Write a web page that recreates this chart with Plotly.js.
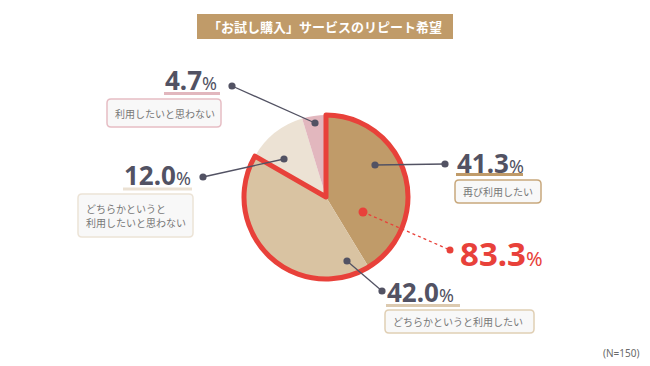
<!DOCTYPE html>
<html><head><meta charset="utf-8">
<script src="https://cdn.plot.ly/plotly-3.0.1.min.js"></script>
<style>html,body{margin:0;padding:0;background:#fff}#c{width:650px;height:366px}</style>
</head><body><div id="c"></div>
<script>
// ---- data ----
const labels = ['再び利用したい', 'どちらかというと利用したい', 'どちらかというと<br>利用したいと思わない', '利用したいと思わない'];
const values = [41.3, 42.0, 12.0, 4.7];
const colors = ['#c09b69', '#d9c3a2', '#ece2d4', '#e2b7be'];
const groupLabel = ['利用したい計', 'それ以外'];
const groupValues = [83.3, 16.7];
const titleText = '「お試し購入」サービスのリピート希望';
const noteText = '(N=150)';

// ---- layout helpers ----
const W = 650, H = 366;
const px = x => x / W, py = y => 1 - y / H;
const cx = 326, cy = 197, R = 82;
const dom = {x: [px(cx - R), px(cx + R)], y: [py(cy + R), py(cy - R)]};
const dark = '#525263';
const numFont = 'Noto Sans, sans-serif';
const jpFont = 'Noto Sans CJK JP, sans-serif';

const traces = [
  {type: 'pie', values: values, labels: labels, sort: false, direction: 'clockwise', rotation: 0,
   marker: {colors: colors, line: {width: 0}}, textinfo: 'none', hoverinfo: 'skip', domain: dom, showlegend: false},
  {type: 'pie', values: groupValues, labels: groupLabel, sort: false, direction: 'clockwise', rotation: 0,
   marker: {colors: ['rgba(0,0,0,0)', 'rgba(0,0,0,0)'], line: {color: ['#e8413a', 'rgba(0,0,0,0)'], width: [5, 0]}},
   textinfo: 'none', hoverinfo: 'skip', domain: dom, showlegend: false}
];

const shapes = [];
const annotations = [];
function line(x0, y0, x1, y1, color, w, dash) {
  shapes.push({type: 'line', xref: 'paper', yref: 'paper', x0: px(x0), y0: py(y0), x1: px(x1), y1: py(y1),
    line: {color: color, width: w, dash: dash || 'solid'}});
}
function dot(x, y, r, color) {
  shapes.push({type: 'circle', xref: 'paper', yref: 'paper', x0: px(x - r), y0: py(y + r), x1: px(x + r), y1: py(y - r),
    fillcolor: color, line: {width: 0}});
}
function rrect(x0, y0, x1, y1, r, fill, border, bw) {
  const p = (x, y) => px(x) + ',' + py(y);
  const path = 'M' + p(x0 + r, y0) + ' L' + p(x1 - r, y0) + ' Q' + p(x1, y0) + ' ' + p(x1, y0 + r) +
    ' L' + p(x1, y1 - r) + ' Q' + p(x1, y1) + ' ' + p(x1 - r, y1) + ' L' + p(x0 + r, y1) +
    ' Q' + p(x0, y1) + ' ' + p(x0, y1 - r) + ' L' + p(x0, y0 + r) + ' Q' + p(x0, y0) + ' ' + p(x0 + r, y0) + ' Z';
  shapes.push({type: 'path', xref: 'paper', yref: 'paper', path: path, fillcolor: fill,
    line: {color: border, width: bw}});
}
function text(x, y, t, size, color, family, xa, ya, align) {
  annotations.push({xref: 'paper', yref: 'paper', x: px(x), y: py(y), text: t, showarrow: false,
    xanchor: xa || 'left', yanchor: ya || 'middle', align: align || 'left',
    font: {size: size, color: color, family: family}});
}
function pct(v, small) {
  return '<b>' + v.toFixed(1) + '</b><span style="font-size:' + small + 'px">%</span>';
}

// title
shapes.push({type: 'rect', xref: 'paper', yref: 'paper', x0: px(197), y0: py(39), x1: px(453), y1: py(14),
  fillcolor: '#c09b69', line: {width: 0}});
text(325, 27, '<b>' + titleText + '</b>', 13, '#ffffff', jpFont, 'center', 'middle', 'center');

// label specs (positions only)
const specs = [
  {i: 0, inDot: [375, 165], outDot: [445, 164], num: [455, 163], ul: [456, 523, 174.5], box: [455, 180, 541, 203], ubColor: '#c09b69', boxBorder: '#c8a87c'},
  {i: 1, inDot: [347, 261], outDot: [382, 291], num: [385, 292], ul: [386, 460, 305.5], box: [385, 310, 534, 333], ubColor: '#dccab0', boxBorder: '#e0cfb4'},
  {i: 2, inDot: [284, 159], outDot: [203, 177], num: [122, 175], ul: [123, 192, 189], box: [78, 194, 193, 237], ubColor: '#ebe1d3', boxBorder: '#ece3d6'},
  {i: 3, inDot: [315, 123], outDot: [232, 86], num: [163, 80], ul: [164, 220, 93.5], box: [107, 99, 221, 127], ubColor: '#e2b7be', boxBorder: '#e6bdc4'}
];
specs.forEach(s => {
  line(s.inDot[0], s.inDot[1], s.outDot[0], s.outDot[1], dark, 1.3);
  dot(s.inDot[0], s.inDot[1], 3.6, dark);
  dot(s.outDot[0], s.outDot[1], 3.6, dark);
  line(s.ul[0], s.ul[2], s.ul[1], s.ul[2], s.ubColor, 3);
  rrect(s.box[0], s.box[1], s.box[2], s.box[3], 4, '#f8f8f8', s.boxBorder, 1.5);
  text(s.num[0], s.num[1], pct(values[s.i], 18), 26, dark, numFont, 'left', 'middle');
  const parts = labels[s.i].split('<br>');
  const mid = (s.box[1] + s.box[3]) / 2, gap = 14.5;
  parts.forEach((t, k) => {
    const y = mid + (k - (parts.length - 1) / 2) * gap;
    text(s.box[0] + 6, y, t, 10, '#777777', jpFont, 'left', 'middle', 'left');
  });
});

// 83.3 group
line(363, 212, 450, 250, '#e8413a', 1.3, 'dot');
dot(363, 212, 4.5, '#e8413a');
dot(450, 250, 3.5, '#e8413a');
text(458, 253, pct(groupValues[0], 20), 33, '#e8413a', numFont, 'left', 'middle');

// note
text(641, 353, noteText, 10, '#6a6a6a', 'Noto Sans, sans-serif', 'right', 'middle', 'right');

Plotly.newPlot('c', traces, {
  width: W, height: H, margin: {l: 0, r: 0, t: 0, b: 0},
  paper_bgcolor: '#ffffff', plot_bgcolor: '#ffffff', showlegend: false,
  shapes: shapes, annotations: annotations
}, {staticPlot: true});
</script></body></html>
